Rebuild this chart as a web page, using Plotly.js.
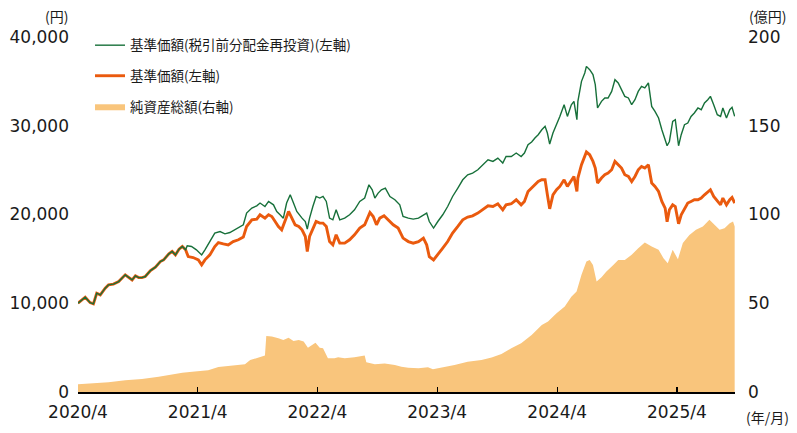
<!DOCTYPE html>
<html>
<head>
<meta charset="utf-8">
<script src="https://cdn.plot.ly/plotly-3.0.1.min.js"></script>
<style>html,body{margin:0;padding:0;background:#fff;}#chart{width:797px;height:433px;}</style>
</head>
<body>
<div id="chart"></div>
<script>
// 基準価額(税引前分配金再投資) — left axis (円)
const greenDates = ["2020-04-01","2020-04-23","2020-05-08","2020-05-18","2020-05-28","2020-06-08","2020-06-23","2020-07-03","2020-07-18","2020-08-03","2020-08-23","2020-09-03","2020-09-13","2020-09-23","2020-10-03","2020-10-13","2020-10-23","2020-11-08","2020-11-23","2020-12-08","2020-12-18","2021-01-03","2021-01-13","2021-01-23","2021-02-03","2021-02-13","2021-02-23",
"2021-02-28","2021-03-13","2021-03-28","2021-04-13","2021-04-23","2021-05-08","2021-05-23","2021-06-08","2021-06-23","2021-07-08","2021-07-23","2021-08-08","2021-08-18","2021-08-28","2021-09-13","2021-09-28","2021-10-08","2021-10-23","2021-11-03","2021-11-18","2021-11-28","2021-12-08","2021-12-18","2021-12-28","2022-01-08","2022-01-18","2022-01-28","2022-02-13","2022-02-23","2022-03-01","2022-03-08","2022-03-18","2022-03-28","2022-04-08","2022-04-18","2022-04-28","2022-05-08","2022-05-18","2022-05-28","2022-06-08","2022-06-23","2022-07-08","2022-07-23","2022-08-08","2022-08-23","2022-09-05","2022-09-15","2022-09-23","2022-10-03","2022-10-13","2022-10-25","2022-11-08","2022-11-23","2022-12-08","2022-12-18","2023-01-03","2023-01-18","2023-02-03","2023-02-18","2023-02-28","2023-03-08","2023-03-21","2023-04-03","2023-04-18","2023-05-03","2023-05-18","2023-06-03","2023-06-18","2023-07-03","2023-07-18","2023-08-03","2023-08-18","2023-09-03","2023-09-18","2023-10-03","2023-10-18","2023-10-28","2023-11-13","2023-11-28","2023-12-13","2023-12-23","2024-01-03","2024-01-14","2024-01-24","2024-02-03","2024-02-14","2024-02-24","2024-03-02","2024-03-09","2024-03-19","2024-03-30","2024-04-09","2024-04-22","2024-05-02","2024-05-14","2024-05-22","2024-05-31","2024-06-03","2024-06-14","2024-06-24","2024-06-29","2024-07-09","2024-07-19","2024-07-26","2024-08-02","2024-08-14","2024-08-24","2024-09-03","2024-09-14","2024-09-24","2024-10-04","2024-10-14","2024-10-24","2024-11-04","2024-11-14","2024-11-24","2024-12-04","2024-12-14","2024-12-24","2025-01-04","2025-01-14","2025-01-24","2025-02-04","2025-02-14","2025-02-24","2025-03-02","2025-03-09","2025-03-19","2025-03-27","2025-04-06","2025-04-14","2025-04-24","2025-05-04","2025-05-14","2025-05-24","2025-06-04","2025-06-14","2025-06-24","2025-07-04","2025-07-12","2025-07-22","2025-08-02","2025-08-12","2025-08-19","2025-08-30","2025-09-09","2025-09-16","2025-09-24"];
const greenValues = [10000,10680,10070,9930,11130,10940,11700,12070,12150,12440,13200,12940,12630,13090,12890,12890,13010,13680,14070,14700,14890,15570,15830,15450,16100,16390,16020,
16470,16390,16020,15450,16020,16950,17900,18080,17820,17970,18270,18650,18840,20160,20720,20980,21290,20900,21470,21090,20340,19970,19590,21290,22220,21290,20340,19590,19210,18350,19590,20900,22030,21850,22030,21470,19590,19400,20530,19400,19590,19970,20530,21470,21850,23350,22790,21850,22410,22790,22980,22030,21660,21090,19770,19590,19480,19590,19970,20160,19210,18470,19210,19970,20900,22030,22980,23910,24480,24670,25040,25610,26170,25980,26360,25800,26540,26540,26930,26540,26930,27860,28170,28620,28990,29550,29930,29180,27940,29180,30120,31050,32370,31050,32370,32750,30680,32750,35000,35950,36690,36320,35760,34630,32000,32750,33130,33130,33870,35190,34820,34070,33310,33130,32370,32940,33870,34440,34260,34820,32180,31620,30870,29550,28430,27750,28230,30490,30680,27750,28990,30120,30310,31050,31440,32000,31810,32570,32940,33310,32370,31250,31050,32000,30870,31810,32070,31050];

// 基準価額 — left axis (円)
const orangeDates = ["2020-04-01","2020-04-23","2020-05-08","2020-05-18","2020-05-28","2020-06-08","2020-06-23","2020-07-03","2020-07-18","2020-08-03","2020-08-23","2020-09-03","2020-09-13","2020-09-23","2020-10-03","2020-10-13","2020-10-23","2020-11-08","2020-11-23","2020-12-08","2020-12-18","2021-01-03","2021-01-13","2021-01-23","2021-02-03","2021-02-13","2021-02-23",
"2021-03-03","2021-03-18","2021-04-03","2021-04-13","2021-04-23","2021-05-08","2021-05-23","2021-06-03","2021-06-18","2021-07-03","2021-07-18","2021-08-03","2021-08-18","2021-08-28","2021-09-13","2021-09-28","2021-10-08","2021-10-23","2021-11-03","2021-11-13","2021-11-23","2021-12-03","2021-12-13","2021-12-23","2022-01-03","2022-01-13","2022-01-23","2022-02-03","2022-02-13","2022-02-23","2022-03-01","2022-03-08","2022-03-18","2022-03-28","2022-04-08","2022-04-18","2022-04-28","2022-05-08","2022-05-18","2022-05-28","2022-06-08","2022-06-23","2022-07-08","2022-07-23","2022-08-08","2022-08-23","2022-09-08","2022-09-18","2022-09-28","2022-10-08","2022-10-21","2022-11-03","2022-11-18","2022-12-03","2022-12-18","2023-01-03","2023-01-18","2023-02-03","2023-02-18","2023-02-28","2023-03-08","2023-03-21","2023-04-03","2023-04-18","2023-05-03","2023-05-18","2023-06-03","2023-06-18","2023-07-03","2023-07-18","2023-08-03","2023-08-18","2023-09-03","2023-09-18","2023-10-03","2023-10-18","2023-10-28","2023-11-13","2023-11-28","2023-12-13","2023-12-23","2024-01-03","2024-01-14","2024-01-24","2024-02-03","2024-02-14","2024-02-24","2024-03-02","2024-03-09","2024-03-19","2024-03-30","2024-04-09","2024-04-22","2024-05-02","2024-05-14","2024-05-22","2024-05-31","2024-06-03","2024-06-14","2024-06-24","2024-06-29","2024-07-09","2024-07-19","2024-07-26","2024-08-02","2024-08-14","2024-08-24","2024-09-03","2024-09-14","2024-09-24","2024-10-04","2024-10-14","2024-10-24","2024-11-04","2024-11-14","2024-11-24","2024-12-04","2024-12-14","2024-12-24","2025-01-04","2025-01-14","2025-01-24","2025-02-04","2025-02-14","2025-02-24","2025-03-02","2025-03-09","2025-03-19","2025-03-27","2025-04-06","2025-04-14","2025-04-24","2025-05-04","2025-05-14","2025-05-24","2025-06-04","2025-06-14","2025-06-24","2025-07-04","2025-07-12","2025-07-22","2025-08-02","2025-08-12","2025-08-19","2025-08-30","2025-09-09","2025-09-16","2025-09-24"];
const orangeValues = [10000,10680,10070,9930,11130,10940,11700,12070,12150,12440,13200,12940,12630,13090,12890,12890,13010,13680,14070,14700,14890,15570,15830,15450,16100,16390,16020,
15260,15150,14890,14330,14890,15450,16390,16840,16690,16580,16950,17150,17450,18650,19400,19480,19970,19590,19970,19770,19210,18650,18270,19210,20340,19590,18840,18650,18270,17520,15830,17520,18470,19210,19030,19030,18650,16950,16580,17710,16770,16770,17150,17710,18470,18840,20230,19770,18840,19590,19850,19400,18840,18470,17340,16950,16770,16950,17340,16580,15260,14890,15450,16210,16950,17900,18650,19400,19710,19850,20160,20530,20980,20900,21210,20530,21090,21210,21660,21090,21470,22590,22980,23350,23720,23910,23910,22220,20640,22220,22790,23160,23910,23160,23910,24290,22590,24110,25610,26730,27040,26730,25980,25230,23540,24110,24480,24670,25040,25980,25610,25230,24480,24290,23720,24290,25040,25410,25230,25610,23540,23160,22590,21470,20720,19180,20530,21090,20900,18950,19970,20720,21290,21470,21660,21660,21850,22220,22590,22790,22030,21470,21090,21850,21090,21660,21920,21290];

// 純資産総額 — right axis (億円)
const assetDates = ["2020-04-01","2020-05-23","2020-07-03","2020-08-23","2020-10-13","2020-12-03","2021-01-13","2021-02-13","2021-03-23","2021-05-03","2021-06-03","2021-07-23","2021-08-23","2021-09-08","2021-10-03","2021-10-23","2021-10-27","2021-11-13","2021-12-03","2021-12-18","2022-01-03","2022-01-18","2022-02-03","2022-02-18","2022-03-03","2022-03-26","2022-04-08","2022-04-18","2022-05-03","2022-05-23","2022-06-03","2022-06-23","2022-07-23","2022-08-23","2022-08-28","2022-09-23","2022-10-23","2022-11-23","2022-12-13","2023-01-03","2023-02-03","2023-03-04","2023-03-19","2023-04-14","2023-05-24","2023-07-03","2023-08-14","2023-09-14","2023-10-14","2023-11-13","2023-12-13","2024-01-14","2024-02-14","2024-03-04","2024-03-30","2024-04-24","2024-05-14","2024-05-30","2024-06-14","2024-06-29","2024-07-09","2024-07-19","2024-07-30","2024-08-14","2024-08-29","2024-09-19","2024-10-04","2024-10-24","2024-11-14","2024-12-04","2024-12-24","2025-01-14","2025-02-04","2025-02-19","2025-03-04","2025-03-19","2025-04-04","2025-04-19","2025-05-09","2025-05-29","2025-06-19","2025-07-09","2025-07-24","2025-08-09","2025-08-24","2025-09-09","2025-09-19","2025-09-24"];
const assetValues = [4.3,4.9,5.5,6.6,7.3,8.6,10.0,10.9,11.5,12.2,14.1,14.8,15.6,18.0,19.4,20.5,31.6,31.2,30.3,29.3,30.6,28.8,29.3,28.4,25.0,27.8,25.0,24.6,19.0,19.0,19.6,19.0,19.6,20.5,16.7,15.6,16.0,15.2,14.2,13.7,13.4,13.9,12.8,13.7,15.2,17.1,18.0,19.4,21.4,24.6,27.5,32.1,37.8,39.7,44.4,48.1,53.7,56.6,66.0,73.5,74.4,71.6,62.2,64.7,67.9,71.6,74.4,74.4,77.3,81.0,84.2,82.0,80.1,75.4,72.6,80.1,74.8,83.9,88.5,91.4,93.2,97.0,94.2,91.4,92.3,95.1,96.0,93.2];

const xTickVals = ["2020-04-01","2021-04-01","2022-04-01","2023-04-01","2024-04-01","2025-04-01"];
const xTickText = ["2020/4","2021/4","2022/4","2023/4","2024/4","2025/4"];
const leftTicks = [0,10000,20000,30000,40000];
const rightTicks = [0,50,100,150,200];

const names = ["基準価額(税引前分配金再投資)(左軸)","基準価額(左軸)","純資産総額(右軸)"];

const FONT = "DejaVu Sans, Noto Sans CJK JP, sans-serif";
const JFONT = "Noto Sans CJK JP, DejaVu Sans, sans-serif";

const traces = [
  {x: assetDates, y: assetValues, type: "scatter", mode: "lines", yaxis: "y",
   fill: "tozeroy", fillcolor: "#f9c57c", line: {width: 0, color: "#f9c57c"},
   name: names[2], legendgroup: "c", legendrank: 3, hoverinfo: "skip"},
  {x: orangeDates, y: orangeValues, type: "scatter", mode: "lines", yaxis: "y2",
   line: {width: 2.9, color: "#ea5a0e"}, name: names[1], legendgroup: "b", legendrank: 2},
  {x: greenDates, y: greenValues, type: "scatter", mode: "lines", yaxis: "y2",
   line: {width: 1.4, color: "#17703a"}, name: names[0], legendgroup: "a", legendrank: 1}
];

const layout = {
  width: 797, height: 433,
  margin: {l: 78, r: 62, t: 37, b: 41},
  paper_bgcolor: "#fff", plot_bgcolor: "#fff",
  font: {family: FONT, color: "#1a1a1a", size: 16},
  showlegend: true,
  legend: {x: 0.0183, y: 1.02, xanchor: "left", yanchor: "top",
           traceorder: "grouped", tracegroupgap: 10, bgcolor: "rgba(0,0,0,0)",
           font: {family: JFONT, size: 13.5, color: "#1a1a1a"}},
  xaxis: {type: "date", range: ["2020-04-01", "2025-09-25"],
          tickvals: xTickVals, ticktext: xTickText,
          ticks: "inside", ticklen: 5, tickwidth: 1.2, tickcolor: "#000",
          showline: true, linecolor: "#000", linewidth: 1.5,
          showgrid: false, zeroline: false, ticklabelstandoff: 4,
          tickfont: {size: 17, family: FONT}},
  yaxis: {range: [0, 200], tickvals: rightTicks, side: "right",
          showgrid: false, zeroline: false, showline: false, ticks: "",
          ticklabelstandoff: 12, tickfont: {size: 17, family: FONT}},
  yaxis2: {range: [0, 40000], tickvals: leftTicks, tickformat: ",", overlaying: "y", side: "left",
           showgrid: false, zeroline: false, showline: false, ticks: "",
           ticklabelstandoff: 8, tickfont: {size: 17, family: FONT}},
  annotations: [
    {text: "(円)", xref: "paper", yref: "paper", x: -0.032, y: 1.059, showarrow: false,
     xanchor: "center", yanchor: "middle", font: {family: JFONT, size: 14, color: "#1a1a1a"}},
    {text: "(億円)", xref: "paper", yref: "paper", x: 1.050, y: 1.059, showarrow: false,
     xanchor: "center", yanchor: "middle", font: {family: JFONT, size: 14, color: "#1a1a1a"}},
    {text: "(年/月)", xref: "paper", yref: "paper", x: 1.049, y: -0.0704, showarrow: false,
     xanchor: "center", yanchor: "middle", font: {family: JFONT, size: 14, color: "#1a1a1a"}}
  ]
};

Plotly.newPlot("chart", traces, layout, {displayModeBar: false, staticPlot: true});
</script>
</body>
</html>
